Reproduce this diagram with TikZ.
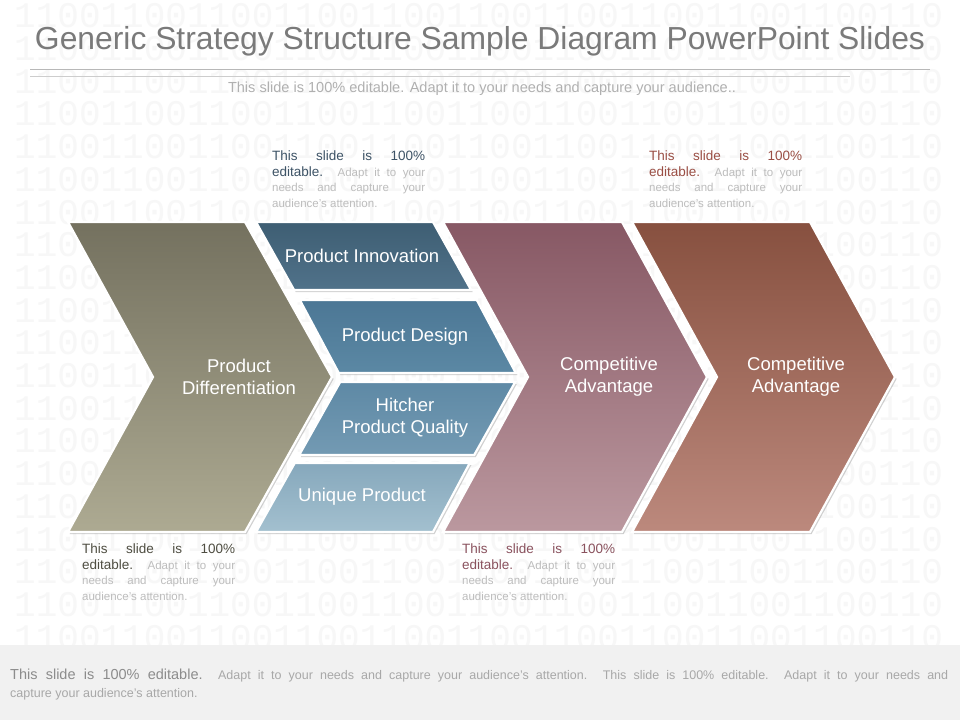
\documentclass[tikz,border=0pt]{standalone}
\usepackage{fontspec}
\usepackage{graphicx}
\setmainfont{Liberation Sans}
\newfontfamily\digitfont{Liberation Mono}
\definecolor{titlec}{HTML}{7A7A7A}
\definecolor{rulec}{HTML}{B8B8B8}
\definecolor{subc}{HTML}{B0B0B0}
\definecolor{smallc}{HTML}{BDBDBD}
\definecolor{footc}{HTML}{F1F1F1}
\definecolor{foothead}{HTML}{8C8C8C}
\definecolor{foottext}{HTML}{A8A8A8}
\definecolor{digitc}{HTML}{F7F7F7}
\definecolor{olvT}{HTML}{74715F}
\definecolor{olvB}{HTML}{ADAA92}
\definecolor{mauT}{HTML}{875864}
\definecolor{mauB}{HTML}{BB989F}
\definecolor{redT}{HTML}{87503F}
\definecolor{redB}{HTML}{BC897D}
\definecolor{b1T}{HTML}{3E5E73}
\definecolor{b1B}{HTML}{50728A}
\definecolor{b2T}{HTML}{4C7795}
\definecolor{b2B}{HTML}{5B88A4}
\definecolor{b3T}{HTML}{5E89A5}
\definecolor{b3B}{HTML}{739AB3}
\definecolor{b4T}{HTML}{86A8BC}
\definecolor{b4B}{HTML}{A3C0CF}
\definecolor{headA}{HTML}{3D5366}
\definecolor{headB}{HTML}{9A4E44}
\definecolor{headC}{HTML}{4F4E42}
\definecolor{headD}{HTML}{8A525E}
\newcommand\gshape[3]{%
  \fill[shadowfx] #3;
  \path[top color=#1,bottom color=#2,draw=white,line width=2.2pt,line join=miter] #3;}
\newcommand\notetext[1]{\hyphenpenalty=10000\relax\exhyphenpenalty=10000\relax
  {\color{#1}\fontsize{13.5}{16.5}\selectfont This slide is 100\%\linebreak editable.} {\color{smallc}\fontsize{11.5}{15.5}\selectfont Adapt it to your\linebreak needs and capture your\linebreak audience's attention.}\par}
\tikzset{
  shadowfx/.style={fill=black!40, opacity=0.45, xshift=1.6pt, yshift=-2pt},
  lbl/.style={text=white, font=\fontsize{18.5}{22}\selectfont, align=center, inner sep=0pt},
  notebox/.style={anchor=north west, text width=153pt, align=justify, inner sep=0pt,
    font=\fontsize{11.5}{15.5}\selectfont},
  digits/.style={anchor=west, text=digitc, inner sep=0pt, font=\digitfont\fontsize{36}{36}\selectfont}
}
\begin{document}
\begin{tikzpicture}[x=1pt,y=-1pt]
\useasboundingbox (0,0) rectangle (960,720);
\fill[white] (0,0) rectangle (960,720);
% background binary pattern
\foreach \k in {0,...,19}{
  \node[digits, name=bg\k] at (14,{16+32.7*\k}) {1100110011001100110011001100110011001100110};
}
% title
\node[text=titlec, inner sep=0pt] (title) at (480,41) {\resizebox{890pt}{!}{\fontsize{32}{38}\selectfont Generic Strategy Structure Sample Diagram PowerPoint Slides}};
\draw[rulec, line width=0.9pt] (30,69) -- (930,69);
\draw[rulec!70, line width=0.9pt] (30,76) -- (850,76);
\node[text=subc, inner sep=0pt] (sub) at (482,89) {\resizebox{508pt}{!}{\fontsize{13}{15}\selectfont This slide is 100\% editable. Adapt it to your needs and capture your audience..}};

% chevrons
\gshape{olvT}{olvB}{(68,222) -- (245,222) -- (332,377) -- (245,532) -- (68,532) -- (153,377) -- cycle}
\gshape{mauT}{mauB}{(443,222) -- (622,222) -- (707,377) -- (622,532) -- (443,532) -- (528,377) -- cycle}
\gshape{redT}{redB}{(632,222) -- (810,222) -- (895,377) -- (810,532) -- (632,532) -- (717,377) -- cycle}
% bars
\gshape{b1T}{b1B}{(256,222) -- (433,222) -- (471.1,290) -- (294.1,290) -- cycle}
\gshape{b2T}{b2B}{(299.8,300) -- (476.8,300) -- (515.8,373) -- (338.8,373) -- cycle}
\gshape{b3T}{b3B}{(340.2,382) -- (515.2,382) -- (474.2,455) -- (299.2,455) -- cycle}
\gshape{b4T}{b4B}{(294.8,463) -- (469.8,463) -- (433,532) -- (256,532) -- cycle}

% labels
\node[lbl] (pd) at (239,377) {Product\\Differentiation};
\node[lbl] (pi) at (362,256) {Product Innovation};
\node[lbl] (pdes) at (405,337) {Product Design};
\node[lbl] (hpq) at (405,418) {Hitcher\\Product Quality};
\node[lbl] (up) at (362,497) {Unique Product};
\node[lbl] (ca1) at (609,377) {Competitive\\Advantage};
\node[lbl] (ca2) at (796,377) {Competitive\\Advantage};

% notes
\node[notebox] (n1) at (272,151) {\notetext{headA}};
\node[notebox] (n2) at (649,151) {\notetext{headB}};
\node[notebox] (n3) at (82,544) {\notetext{headC}};
\node[notebox] (n4) at (462,544) {\notetext{headD}};

% footer
\fill[footc] (0,645) rectangle (960,720);
\node[anchor=north west, inner sep=0pt, align=left, font=\fontsize{12.5}{18}\selectfont, text=foottext] (foot) at (10,669)
 {\makebox[938pt][s]{{\color{foothead}\fontsize{14.5}{18}\selectfont This slide is 100\% editable.} Adapt it to your needs and capture your audience's attention. This slide is 100\% editable. Adapt it to your needs and}\\capture your audience's attention.};
\end{tikzpicture}
\end{document}
